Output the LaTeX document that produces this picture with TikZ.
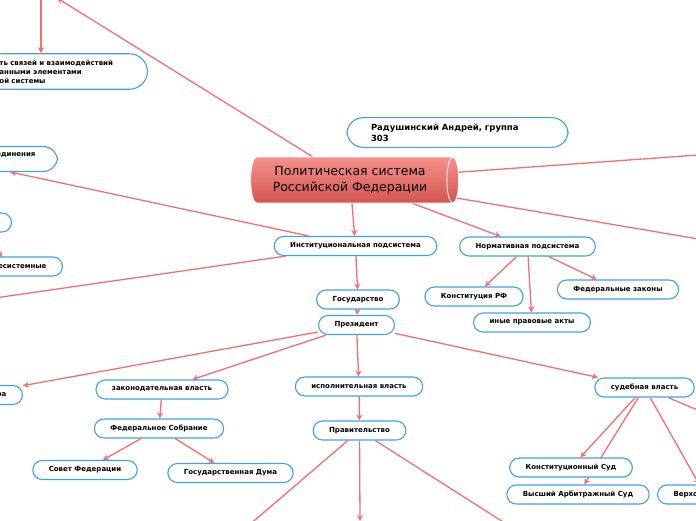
\documentclass[tikz,border=0pt]{standalone}
\usepackage{fontspec}
\setmainfont{DejaVu Sans}
\usetikzlibrary{arrows.meta,shapes.geometric,backgrounds}
\definecolor{linkred}{RGB}{246,110,110}
\definecolor{boxblue}{RGB}{66,160,230}
\definecolor{cyltop}{RGB}{245,145,140}
\definecolor{cylbot}{RGB}{212,84,80}
\begin{document}
\begin{tikzpicture}[x=1pt,y=-1pt,
  box/.style={draw=boxblue,line width=1.1pt,fill=white,rounded corners=9.5pt,minimum height=19pt,
    inner xsep=16pt,inner ysep=6pt,font=\fontsize{7}{9}\selectfont\bfseries},
  link/.style={draw=linkred,line width=1.3pt,-{Stealth[length=6pt,width=6pt]}}]
\useasboundingbox (0,0) rectangle (696,520);
\clip (0,0) rectangle (696,520);
\node[shape=cylinder,shape border rotate=0,aspect=0.35,minimum width=46pt,minimum height=208pt,
  top color=cyltop,bottom color=cylbot,draw=white,line width=0.8pt,
  font=\fontsize{12.5}{15.5}\selectfont,align=center] (pol) at (350,180) {Политическая система\\Российской Федерации};
\node[box,rounded corners=16pt,align=left,text width=173pt,inner xsep=24pt,
  font=\fontsize{8.5}{11}\selectfont\bfseries] (rad) at (457.5,132.5) {Радушинский Андрей, группа\\303};
\node[box,rounded corners=18pt,align=left,text width=132pt,anchor=east] (sov) at (148,71.5) {ть связей и взаимодействий\\анными элементами\\ой системы};
\node[box,rounded corners=14pt,align=right,text width=172pt,inner xsep=22pt,anchor=east] (edin) at (58,159) {единения\\\mbox{}};
\node[box,minimum width=64pt,anchor=east] (blank) at (12,222.5) {};
\node[box,align=right,text width=100pt,anchor=east] (nes) at (63,266.5) {есистемные};
\node[box,align=right,text width=70pt,anchor=east] (ra) at (23,395) {ра};
\node[box] (inst) at (355.5,246) {Институциональная подсистема};
\node[box] (norm) at (527.5,246.5) {Нормативная подсистема};
\node[box] (gos) at (358,299.5) {Государство};
\node[box] (pres) at (356.5,325) {Президент};
\node[box] (konst) at (474,296.5) {Конституция РФ};
\node[box] (inye) at (532,322.5) {иные правовые акты};
\node[box] (fedz) at (618,289.5) {Федеральные законы};
\node[box] (zak) at (162,389.5) {законодательная власть};
\node[box] (isp) at (359,386.5) {исполнительная власть};
\node[box] (sud) at (644.5,387.5) {судебная власть};
\node[box] (fs) at (159,428.5) {Федеральное Собрание};
\node[box] (sf) at (85,470) {Совет Федерации};
\node[box] (gd) at (230.5,473) {Государственная Дума};
\node[box] (prav) at (359.5,430.5) {Правительство};
\node[box] (ks) at (571,467.5) {Конституционный Суд};
\node[box] (vas) at (578,494.5) {Высший Арбитражный Суд};
\node[box,anchor=west] (vs) at (657,494.5) {Верховный Суд};
\coordinate (up) at (57,-2);
\coordinate (upl) at (41,-30);
\coordinate (east1) at (740,152);
\coordinate (east2) at (740,246);
\coordinate (east3) at (740,428);
\coordinate (west1) at (-40,303);
\coordinate (nestip) at (2,257);
\coordinate (down1) at (220,550);
\coordinate (down2) at (360,521);
\coordinate (down3) at (563,560);
\begin{scope}[on background layer]
\draw[link] (pol) -- (up);
\draw[link] (upl) -- (upl |- sov.north);
\draw[link] (pol) -- (east1);
\draw[link] (pol) -- (east2);
\draw[link] (pol) -- (inst);
\draw[link] (pol) -- (norm);
\draw[link] (inst) -- (edin);
\draw[link] (inst) -- (west1);
\draw[link] (blank) -- (nestip);
\draw[link] (inst) -- (gos);
\draw[link] (gos) -- (pres);
\draw[link] (norm) -- (konst);
\draw[link] (norm) -- (inye);
\draw[link] (norm) -- (fedz);
\draw[link] (pres) -- (ra);
\draw[link] (pres) -- (zak);
\draw[link] (pres) -- (isp);
\draw[link] (pres) -- (sud);
\draw[link] (zak) -- (fs);
\draw[link] (fs) -- (sf);
\draw[link] (fs) -- (gd);
\draw[link] (isp) -- (prav);
\draw[link] (prav) -- (down1);
\draw[link] (prav) -- (down2);
\draw[link] (prav) -- (down3);
\draw[link] (sud) -- (ks);
\draw[link] (sud) -- (vas);
\draw[link] (sud) -- (vs);
\draw[link] (sud) -- (east3);
\end{scope}
\end{tikzpicture}
\end{document}
